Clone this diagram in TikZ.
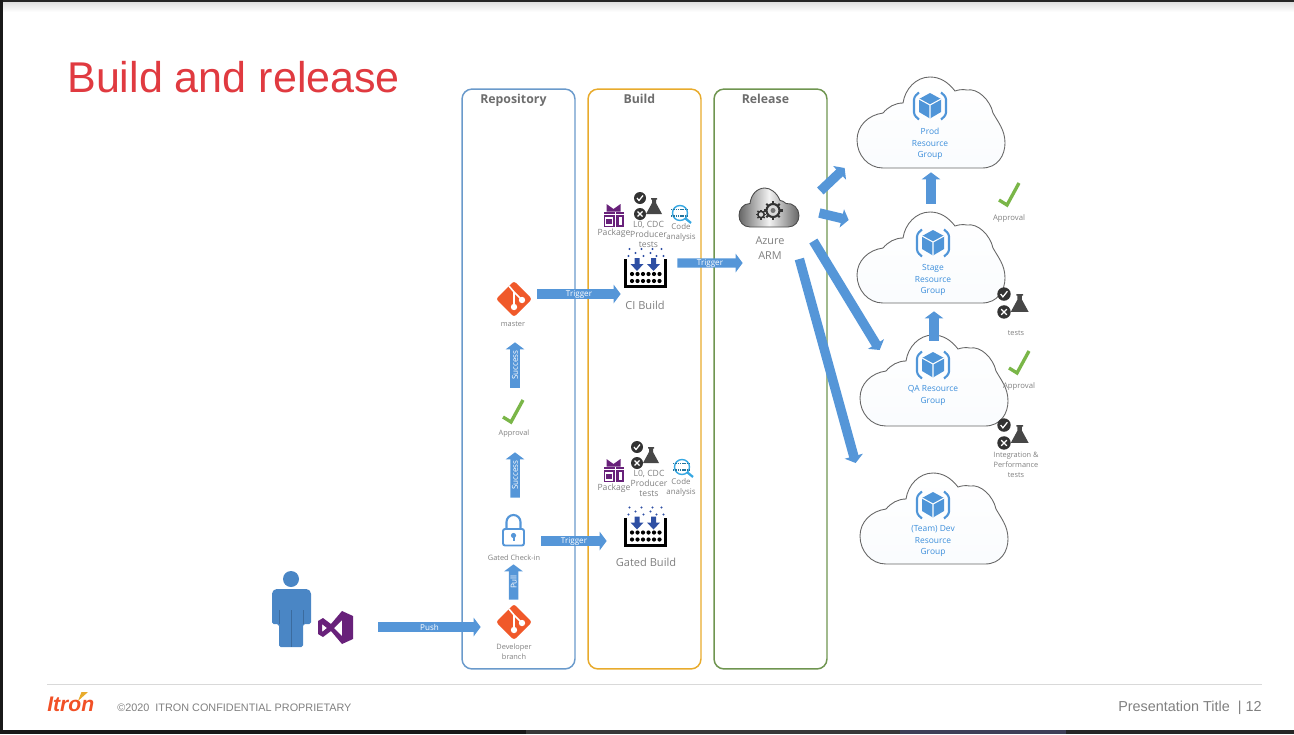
\documentclass[tikz,border=0pt]{standalone}
\usepackage{fontspec}
\setmainfont{Open Sans}
\newfontfamily\arialfont{Liberation Sans}
\usetikzlibrary{arrows.meta,positioning}
\definecolor{flowblue}{HTML}{5596D8}
\definecolor{repoblue}{HTML}{6A9ACB}
\definecolor{buildgold}{HTML}{E8AB2C}
\definecolor{releasegreen}{HTML}{6F9550}
\definecolor{titlered}{HTML}{E03A40}
\definecolor{lblgrey}{HTML}{808080}
\definecolor{gitorange}{HTML}{F0592A}
\definecolor{cubeblue}{HTML}{4F95D8}
\definecolor{rgtext}{HTML}{3C8EDB}
\definecolor{pkgpurple}{HTML}{68217A}
\definecolor{okgreen}{HTML}{7AB648}
\definecolor{bowlblue}{HTML}{2E4FA3}
\definecolor{lensblue}{HTML}{35A7E2}
\definecolor{personblue}{HTML}{4A86C5}
\definecolor{stripslate}{HTML}{3F3F58}
\tikzset{
  >={Triangle[length=4pt,width=10.5pt]},
  panel/.style={draw,rounded corners=5.7pt,line width=.85pt,minimum width=2.26cm,minimum height=11.6cm,inner sep=0pt},
  paneltitle/.style={font=\fontsize{7}{8}\selectfont\bfseries,text=lblgrey!85!black,inner sep=0pt},
  iconbox/.style={inner sep=0pt,minimum size=.72cm},
  lbl/.style={font=\fontsize{4.2}{5.7}\selectfont,text=lblgrey,align=center,inner sep=0pt,yshift=-.6pt},
  pkglbl/.style={font=\fontsize{4.9}{5.8}\selectfont,text=lblgrey,align=center,inner sep=0pt,yshift=-.4pt},
  codelbl/.style={font=\fontsize{4.5}{5.8}\selectfont,text=lblgrey,align=center,inner sep=0pt,yshift=-.4pt},
  biglbl/.style={font=\fontsize{6.3}{8.4}\selectfont,text=lblgrey,align=center,inner sep=0pt},
  rglbl/.style={font=\fontsize{4.8}{6.5}\selectfont,text=rgtext,align=center,inner sep=0pt},
  flow/.style={draw=flowblue,line width=5.4pt,->},
  flowtext/.style={font=\fontsize{4.6}{5}\selectfont,text=white,inner sep=0pt,midway},
  footer/.style={font=\arialfont,text=lblgrey,inner sep=0pt},
  pics/gitlogo/.style={code={
    \fill[gitorange,rounded corners=1.5pt] (0,-18)--(18,0)--(0,18)--(-18,0)--cycle;
    \draw[white,line width=.9pt] (-5,-13)--(0,-7)--(0,8) (0,-7)--(8,1);
    \fill[white] (0,8) circle (3.2) (8,1) circle (3.2);
  }},
  pics/lock/.style={code={
    \draw[flowblue,line width=1.2pt] (-7,-1.5)--(-7,-8.5) arc[start angle=180,end angle=360,radius=7]--(7,-1.5);
    \draw[flowblue,line width=1.1pt,fill=white,rounded corners=1.2pt] (-10.5,-1.5) rectangle (10.5,15);
    \fill[flowblue] (0,5) circle (2.6);
    \fill[flowblue] (-1,5) rectangle (1,10);
  }},
  pics/okmark/.style={code={
    \draw[okgreen,line width=1.9pt] (-10,5)--(-2,10)--(10,-12);
  }},
  pics/testicon/.style={code={
    \fill[black!80] (0,-8) circle (6) (0,8) circle (6);
    \draw[white,line width=.7pt] (-3,-8)--(-1,-5.5)--(3,-10.5);
    \draw[white,line width=.7pt] (-2.5,5.5)--(2.5,10.5) (-2.5,10.5)--(2.5,5.5);
    \fill[black!72] (11,-8)--(17,-8)--(17,-6.5)--(16,-6.5)--(16,-3)--(22,8)--(6,8)--(12,-3)--(12,-6.5)--(11,-6.5)--cycle;
  }},
  pics/buildicon/.style={code={
    \draw[black,line width=1.7pt] (-20,-9)--(-20,18.5)--(20,18.5)--(20,-9);
    \foreach \i in {0,...,5} {
      \fill[black] (-13.5+\i*5.5,6) circle (2.1);
      \fill[black] (-13.5+\i*5.5,13) circle (2.1);
    }
    \foreach \a in {-8.5,8} {
      \fill[bowlblue] (\a-2.5,-10)--(\a+2.5,-10)--(\a+2.5,-4)--(\a+6.5,-4)--(\a,3)--(\a-6.5,-4)--(\a-2.5,-4)--cycle;
    }
    \foreach \a/\b in {-16/-19,-4/-19,7/-19,16/-19,-10/-15,5/-15,-17/-12,-2/-12,11/-12,18/-12} {
      \fill[bowlblue] (\a,\b) circle (1.2);
    }
  }},
  pics/package/.style={code={
    \fill[pkgpurple] (-10,-4) rectangle (10,11.5);
    \fill[pkgpurple] (-7,-11.5)--(0,-6.5)--(7,-11.5)--(7,-4)--(-7,-4)--cycle;
    \draw[white,line width=.5pt] (-10,-1)--(10,-1) (2,-4)--(2,11.5);
    \draw[white,line width=.6pt] (-8,2.5) rectangle (-1,9.5);
    \fill[white] (5,1) rectangle (8,9);
  }},
  pics/lens/.style={code={
    \draw[lensblue,line width=.8pt,fill=white] (0,0) circle (7.5);
    \draw[lensblue,line width=1.3pt] (5.5,5.5)--(11,10);
    \draw[lensblue!70!black,line width=.8pt,dash pattern=on .8pt off .5pt] (-9,-3.5)--(9,-3.5) (-9,3)--(9,3);
  }},
  pics/rgcloud/.style={code={
    \draw[black!60,top color=white,bottom color=cubeblue!3,line width=.5pt] (-47,46)--(52,46) .. controls (68,46) and (75,33) .. (75,21)
      .. controls (75,8) and (68,0) .. (63,-9) .. controls (60,-22) and (48,-34) .. (37,-32)
      .. controls (32,-33) and (28,-32) .. (25,-31) .. controls (18,-40) and (10,-45) .. (0,-45)
      .. controls (-14,-45) and (-25,-33) .. (-27,-19) .. controls (-35,-19) and (-42,-15) .. (-47,-9)
      .. controls (-62,-7) and (-73,4) .. (-73,18) .. controls (-73,33) and (-62,46) .. (-47,46)--cycle;
  }},
  pics/cube/.style={code={
    \fill[cubeblue] (0,-13)--(11,-7)--(11,6)--(0,12.5)--(-11,6)--(-11,-7)--cycle;
    \draw[white,line width=.6pt] (-11,-7)--(0,-1)--(11,-7) (0,-1)--(0,12.5);
    \draw[cubeblue,line width=1.2pt,rounded corners=1.5pt] (-11,-13.5)--(-16,-9)--(-16,9)--(-11,13.5);
    \draw[cubeblue,line width=1.2pt,rounded corners=1.5pt] (11,-13.5)--(16,-9)--(16,9)--(11,13.5);
  }},
  pics/armcloud/.style={code={
    \draw[black!70,line width=.5pt,left color=black!60,right color=black!60,middle color=black!5]
      (-19,19.5)--(19,19.5) .. controls (26,19.5) and (30,14) .. (30,8) .. controls (30,1) and (24,-5) .. (17,-4)
      .. controls (15,-6) and (13,-7) .. (11,-7) .. controls (8,-15) and (1,-19.5) .. (-4,-19.5)
      .. controls (-12,-19.5) and (-18,-13) .. (-19,-4) .. controls (-26,-4) and (-30,2) .. (-30,8)
      .. controls (-30,14) and (-26,19.5) .. (-19,19.5)--cycle;
    \foreach \a in {0,45,...,315} {
      \draw[black!80,line width=1.2pt] (4,3)+(\a:6)--+(\a:9.5);
      \draw[black!80,line width=.8pt] (-8,7)+(\a:3)--+(\a:5);
    }
    \draw[black!80,line width=1.2pt,fill=black!15] (4,3) circle (6.5);
    \fill[black!55] (4,3) circle (2.5);
    \draw[black!80,line width=.9pt,fill=black!15] (-8,7) circle (3.2);
  }},
}
\begin{document}
\begin{tikzpicture}[x=.02cm,y=-.02cm]
  \useasboundingbox (0,0) rectangle (1294,734);
  % window edge
  \fill[top color=black!12,bottom color=white] (0,2) rectangle (1294,12);
  \fill[black!85] (0,0) rectangle (1294,2);
  \fill[black!90] (0,0) rectangle (3,734);
  \fill[black!90] (0,730) rectangle (526,734);
  \fill[black!78] (526,730) rectangle (900,734);
  \fill[stripslate] (900,730) rectangle (1066,734);
  \fill[black!85] (1066,730) rectangle (1294,734);
  % title and footer
  \node[anchor=base west,inner sep=0pt,text=titlered,font=\arialfont\fontsize{24.5}{28}\selectfont] (slidetitle) at (67,92) {Build and release};
  \draw[black!15,line width=.5pt] (47,684)--(1262,684);
  \node[anchor=base west,inner sep=0pt,text=gitorange!90!red,font=\arialfont\bfseries\itshape\fontsize{12}{14}\selectfont] (itron) at (47,711) {Itron};
  \fill[buildgold] (78,701)--(81.5,692)--(88,692)--cycle;
  \node[footer,anchor=base west,font=\arialfont\fontsize{6.17}{8}\selectfont] (copyright) at (117,711) {©2020\ \ ITRON CONFIDENTIAL PROPRIETARY};
  \node[footer,anchor=base east,font=\arialfont\fontsize{8.2}{10}\selectfont] (pagetitle) at (1262,711) {Presentation Title\ \ | 12};
  % the three columns
  \node[panel,draw=repoblue] (repo) at (518.5,379) {};
  \node[panel,draw=buildgold] (build) at (644.5,379) {};
  \node[panel,draw=releasegreen] (release) at (770.5,379) {};
  \node[paneltitle,below=2.9pt of repo.north,xshift=-2.9pt] (repotitle) {Repository};
  \node[paneltitle,below=2.9pt of build.north,xshift=-2.9pt] (buildtitle) {Build};
  \node[paneltitle,below=2.9pt of release.north,xshift=-2.9pt] (releasetitle) {Release};
  % developer
  \fill[personblue] (291,579) circle (8);
  \fill[personblue,rounded corners=1pt] (272,624)--(272,592)--(275,589)--(308,589)--(311,592)--(311,624)--(303,624)--(303,647)--(279,647)--(279,624)--cycle;
  \draw[personblue!80!black,line width=.3pt] (291,610)--(291,647) (279,610)--(279,624) (303,610)--(303,624);
  \node[inner sep=0pt,minimum width=.7cm,minimum height=.66cm] (vslogo) at (335.5,627.5) {};
  \fill[pkgpurple,even odd rule] (318,621)--(323,618)--(331,624)--(342,611)--(353,616)--(353,639)--(342,644)--(331,631)--(323,637)--(318,634)--cycle
    (322,624)--(322,632)--(327,628)--cycle (342,620)--(342,636)--(334,628)--cycle;
  % repository icons
  \node[iconbox] (devbranch) at (514,622) {};
  \pic at (devbranch) {gitlogo};
  \node[lbl] (devbranchlbl) at (514,651) {Developer\\branch};
  \node[iconbox] (gated) at (513.5,530.5) {};
  \pic at (gated) {lock};
  \node[lbl] (gatedlbl) at (514,557) {Gated Check-in};
  \node[iconbox] (approval) at (513,412) {};
  \pic at (approval) {okmark};
  \node[lbl] (approvallbl) at (514,433) {Approval};
  \node[iconbox] (master) at (514,299) {};
  \pic at (master) {gitlogo};
  \node[lbl] (masterlbl) at (513,323) {master};
  % build icons
  \node[iconbox] (cibuild) at (645.5,268) {};
  \pic at (cibuild) {buildicon};
  \node[biglbl] (cilbl) at (645,305) {CI Build};
  \pic at (613.5,215.5) {package};
  \node[pkglbl] (cipkg) at (614,233) {Package};
  \pic at (640,206) {testicon};
  \node[pkglbl] (citests) at (648.5,234) {L0, CDC\\Producer\\tests};
  \pic at (680,213) {lens};
  \node[codelbl] (cicode) at (681,232) {Code\\analysis};
  \node[iconbox] (gatedbuild) at (645.5,526.5) {};
  \pic at (gatedbuild) {buildicon};
  \node[biglbl] (gatedbuildlbl) at (646,562) {Gated Build};
  \pic at (613.5,470.5) {package};
  \node[pkglbl] (gatedpkg) at (614,488) {Package};
  \pic at (637,455) {testicon};
  \node[pkglbl] (gatedtests) at (649,483) {L0, CDC\\Producer\\tests};
  \pic at (682,467) {lens};
  \node[codelbl] (gatedcode) at (681,487) {Code\\analysis};
  % release icon
  \node[iconbox] (arm) at (769,207.5) {};
  \pic at (arm) {armcloud};
  \node[biglbl,font=\fontsize{6.2}{8.5}\selectfont] (armlbl) at (770,248.5) {Azure\\ARM};
  % resource groups
  \node[iconbox] (prod) at (930,122) {};
  \node[iconbox] (stage) at (930,257) {};
  \node[iconbox] (qa) at (933,380) {};
  \node[iconbox] (dev) at (933,518) {};
  \foreach \n in {prod,stage,qa,dev} {\pic at (\n) {rgcloud};}
  \pic at (930,106) {cube};
  \pic at (933,243) {cube};
  \pic at (933,365) {cube};
  \pic at (933,505) {cube};
  \node[rglbl] (prodlbl) at (930,144) {Prod\\Resource\\Group};
  \node[rglbl] (stagelbl) at (933,280) {Stage\\Resource\\Group};
  \node[rglbl] (qalbl) at (933,395.5) {QA Resource\\Group};
  \node[rglbl] (devlbl) at (933,541) {(Team) Dev\\Resource\\Group};
  % gates between the groups
  \pic at (1009,195) {okmark};
  \node[lbl,font=\fontsize{4.4}{5.7}\selectfont] (prodapproval) at (1009,217) {Approval};
  \pic[scale=1.12] at (1004,303) {testicon};
  \node[lbl] (stagetests) at (1016,332) {tests};
  \pic at (1019,363) {okmark};
  \node[lbl,font=\fontsize{4.4}{5.7}\selectfont] (qaapproval) at (1019,385) {Approval};
  \pic[scale=1.12] at (1004,434) {testicon};
  \node[lbl] (qatests) at (1016,464) {Integration \&\\Performance\\tests};
  % flows
  \draw[flow] ([shift={(25,-.5)}]vslogo.east) -- node[flowtext] (pushlbl) {Push} ([shift={(-15,5)}]devbranch.west);
  \draw[flow] ([shift={(-.5,-4)}]devbranch.north) -- node[flowtext,rotate=90] (pulllbl) {Pull} ([shift={(0,15.5)}]gated.south);
  \draw[flow] ([shift={(1.5,-14.5)}]gated.north) -- node[flowtext,rotate=90] (successa) {Success} ([shift={(2,22)}]approval.south);
  \draw[flow] ([shift={(2,-6)}]approval.north) -- node[flowtext,rotate=90] (successb) {Success} ([shift={(1,25)}]master.south);
  \draw[flow] ([shift={(5,-5)}]master.east) -- node[flowtext] (triggera) {Trigger} ([shift={(-6.5,26)}]cibuild.west);
  \draw[flow] ([shift={(9.5,10.5)}]gated.east) -- node[flowtext] (triggerb) {Trigger} ([shift={(-20.5,14.5)}]gatedbuild.west);
  \draw[flow] ([shift={(13.5,-5)}]cibuild.east) -- node[flowtext] (triggerc) {Trigger} ([shift={(-8,55.5)}]arm.west);
  \draw[flow] ([shift={(33,-16.5)}]arm.east) -- ([shift={(-67,46)}]prod.west);
  \draw[flow] ([shift={(32,5.5)}]arm.east) -- ([shift={(-63,-37)}]stage.west);
  \draw[flow] ([shift={(26,33.5)}]arm.east) -- ([shift={(-35,-30)}]qa.west);
  \draw[flow] ([shift={(12,51.5)}]arm.east) -- ([shift={(-59,-55)}]dev.west);
  \draw[flow] ([shift={(1,-35)}]stage.north) -- ([shift={(1,32)}]prod.south);
  \draw[flow] ([shift={(1,-21)}]qa.north) -- ([shift={(4,36)}]stage.south);
\end{tikzpicture}
\end{document}
